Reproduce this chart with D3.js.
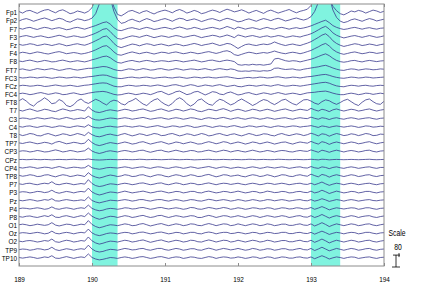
<!DOCTYPE html>
<html>
<head>
<meta charset="utf-8">
<script src="https://cdn.jsdelivr.net/npm/d3@7"></script>
<style>
  body { margin: 0; background: #fff; }
  svg { display: block; }
  text { font-family: "Liberation Sans", Arial, sans-serif; fill: #000; }
</style>
</head>
<body>
<div id="chart"></div>
<script>
// samples every 0.05 s from 189 to 194 (101 per channel), values in uV
var sampleStart = 189, sampleStep = 0.05;
var channels = ["Fp1","Fp2","F7","F3","Fz","F4","F8","FT7","FC3","FCz","FC4","FT8","T7","C3","C4","T8",
  "TP7","CP3","CPz","CP4","TP8","P7","P3","Pz","P4","P8","O1","Oz","O2","TP9","TP10"];
var xTicks = [189, 190, 191, 192, 193, 194];
var marked = [[190.0, 190.35], [193.0, 193.4]];
var scaleValue = 80;

var Fp1 = [4,-6,8,12,2,-8,5,14,18,6,-4,10,16,4,-10,-4,8,2,-6,6, 30,95,190,240,200,110,35,-15, -25,-10,6,12,2,-8,4,10,-2,-12,0,8,14, 6,-4,10,18,8,-6,2,12,4,-10,-4,6,14,8,-2,10,20,12,2,8, 16,6,-6,4,12,2,-8,6,14,4,-6,2,10,18,6,-4,6,12,20, 45,120,210,250,190,100,40,10,-10, -18,-6,8,2,12,6,-6,4,14,8,-2,6];
var Fp2 = [-4,6,12,4,-6,2,10,16,8,-2,6,14,8,-6,-12,0,10,6,-2,4, 15,45,110,180,210,150,60,5, -20,-14,0,8,-2,-10,2,12,4,-8,-2,6,12, 4,-6,6,14,10,-2,4,10,2,-8,0,8,12,4,-4,6,14,8,0,-10, -6,4,10,2,-6,4,12,6,-2,8,14,6,-4,2,10,16,8,2,10, 25,60,120,175,200,160,70,20,-5, -15,-8,4,10,2,-6,4,12,6,-4,2,8];
var F7 = [2,-4,4,8,0,-6,2,8,4,-4,2,6,0,-8,-4,4,8,2,-4,4, 12,20,30,40,45,30,6,-10, -14,-6,2,6,0,-6,2,8,2,-6,-2,4,8, 2,-4,4,10,4,-4,0,8,2,-6,-2,4,8,2,-4,4,14,6,-4,10, 4,-4,2,6,0,-6,2,8,0,-4,4,8,2,-4,2,6,0,4,10, 18,28,38,48,56,40,20,8,0, -6,-2,4,8,2,-4,2,6,0,-4,2,4];
var F3 = [-2,4,8,2,-4,2,6,0,-6,-2,4,10,4,-4,0,6,2,-4,-2,6, 14,24,36,50,55,35,8,-12, -16,-8,0,6,2,-4,4,10,2,-6,0,6,2, -4,2,8,4,-4,0,6,10,2,-6,0,4,10,6,-2,4,12,4,-6,12, 6,-2,4,8,2,-4,2,6,-2,2,8,4,-4,0,6,2,-2,6,12, 20,32,46,60,70,52,26,10,0, -8,-2,4,8,2,-4,2,8,2,-4,0,6];
var Fz = [4,-2,2,8,4,-4,0,6,2,-4,2,8,2,-6,-2,4,8,2,-2,6, 16,28,40,55,60,38,10,-10, -18,-10,-2,6,2,-6,2,8,4,-4,2,6,0, -6,0,6,2,-6,-2,4,10,4,-4,2,6,12,4,-4,2,10,6,-8,-24, -10,2,6,0,-4,2,6,2,8,20,10,2,-4,2,6,0,-4,4,12, 22,36,50,66,75,56,28,10,-2, -10,-4,2,8,4,-4,0,6,2,-4,2,6];
var F4 = [0,6,2,-4,2,8,4,-2,-6,0,6,10,4,-4,0,4,0,-6,-2,4, 12,22,34,46,50,32,8,-10, -14,-6,2,8,2,-4,2,6,0,-6,0,6,4, -2,4,8,2,-4,0,6,2,-4,0,6,10,4,-2,4,12,16,8,-10,-16, -8,0,6,2,-4,0,4,0,6,14,6,0,-4,2,6,2,-4,2,10, 18,30,42,56,65,48,24,8,-2, -8,-2,4,8,2,-4,0,6,4,-2,2,6];
var F8 = [2,-2,4,8,2,-4,0,6,2,-4,-2,4,8,2,-4,0,4,0,-4,2, 10,16,24,32,35,24,6,-8, -12,-4,2,6,0,-4,2,6,2,-4,0,4,2, -2,2,6,2,-4,0,4,8,2,-4,0,6,8,2,-2,4,8,4,-2,-22, -26,-22,-25,-20,-24,-22,-26,-22,-18,16,20,12,4,0,4,2,-4,2,8, 14,22,32,42,50,38,20,6,-2, -6,-2,4,6,0,-4,2,6,2,-2,2,4];
var FT7 = [0,4,-2,-6,0,6,2,-2,2,6,0,-6,-2,4,6,0,-4,0,4,8, 8,12,16,20,18,10,0,-6, -8,-2,4,2,-4,0,6,2,-4,-2,4,6,0, -4,0,6,2,-4,0,4,2,-2,2,6,0,-4,2,6,2,-2,4,0,-10, -12,-10,-12,-8,-10,-12,-8,-10,-6,8,10,4,0,2,4,-2,-4,2,6, 10,14,18,24,28,20,10,2,-4, -6,0,4,2,-4,0,4,2,-2,0,4,2];
var FC3 = [2,-2,0,4,2,-2,2,4,0,-4,0,4,2,-2,0,4,2,-2,2,6, 8,12,16,18,16,8,0,-4, -6,-2,2,4,0,-2,2,4,0,-4,0,2,4, 0,-2,2,4,0,-4,0,4,2,-2,2,4,0,-2,2,4,6,2,-2,-6, -4,0,2,-2,0,4,2,-2,0,4,6,2,-2,0,4,2,-2,2,6, 8,12,16,20,22,16,8,2,-2, -4,0,4,2,-2,0,4,2,-2,0,2,4];
var FCz = [0,4,2,-2,0,4,2,-4,-2,2,6,2,-2,0,4,0,-4,0,4,6, 10,14,18,20,18,8,-2,-6, -6,0,4,2,-2,0,4,2,-2,2,6,2,-4, 0,6,8,2,-4,2,8,4,-4,0,6,2,-2,4,8,2,-4,0,4,-4, -6,0,4,2,-2,2,6,2,-2,4,8,2,-2,0,4,2,-2,2,6, 10,14,18,22,24,18,8,0,-4, -6,0,4,2,-2,2,4,0,-2,2,4,2];
var FC4 = [2,6,2,-4,0,6,10,4,-2,2,8,4,-4,-2,4,8,2,-4,0,6, 10,14,16,18,14,6,-2,-6, -4,2,6,2,-4,0,6,2,-4,4,14,18,6, -4,4,16,20,8,-4,2,14,18,6,-6,4,16,12,0,-4,8,14,4,-6, -2,6,10,2,-4,2,8,4,-2,4,10,4,-2,2,6,2,-4,2,8, 10,12,16,18,20,14,6,0,-4, -4,2,6,2,-4,0,6,4,-2,2,6,2];
var FT8 = [10,24,8,-14,-26,-2,12,30,14,-10,-4,18,6,-22,-30,-16,10,22,2,-8, 6,20,10,-6,-18,4,14,8, -10,-18,2,12,26,6,-12,-22,0,16,24,2,-14, -24,-8,18,30,16,-10,-26,-12,14,22,2,-14,-20,4,20,12,-4,-18,-8,10, 22,8,-6,-22,-10,6,18,12,-4,-16,-2,14,20,4,-10,-18,0,16,18, 8,-6,-14,4,16,10,-4,-14,-2, 12,20,4,-12,-22,0,16,22,4,-10,-14,6];
var T7 = [2,-4,4,10,2,-6,0,8,4,-4,-8,2,10,4,-4,0,6,2,-4,24, 2,-10,-14,-8,0,4,0,-4, 2,8,4,-4,0,6,10,2,-6,-2,6,10,2, -6,0,8,4,-4,2,10,6,-4,-8,0,8,4,-2,6,12,4,-6,2,8, 2,-6,0,8,4,-4,2,8,2,-6,0,6,10,2,-4,2,8,4,0, 14,4,-4,8,2,-8,4,10,2, -4,2,8,4,-4,0,6,10,2,-4,2,6];
var C3 = [0,4,2,-4,0,6,2,-2,2,6,0,-4,2,8,2,-4,0,4,0,16, 0,-8,-10,-6,0,4,2,-2, 2,6,2,-4,0,4,8,2,-4,0,4,6,0, -4,2,6,2,-4,0,6,4,-2,-6,2,6,2,-2,4,8,2,-4,2,6, 0,-4,2,6,2,-4,0,6,2,-4,0,4,6,0,-4,2,6,2,0, 10,2,-4,6,2,-6,2,6,0, -4,2,6,2,-4,0,4,6,0,-4,2,4];
var C4 = [2,-2,4,6,0,-4,2,6,2,-4,0,6,4,-2,-4,2,6,2,-2,14, 0,-6,-8,-4,2,4,0,-2, 2,6,2,-2,2,6,2,-4,0,4,8,2,-4, 0,6,4,-2,2,8,4,-4,-2,4,8,2,-4,2,6,2,-2,4,8,2, -4,0,6,4,-2,2,6,0,-4,2,6,2,-2,2,6,4,-2,2,4, 8,2,-4,6,2,-4,2,6,2, -2,2,6,2,-4,0,6,4,-2,0,4,2];
var T8 = [4,-4,2,10,6,-4,-6,4,10,2,-6,0,8,4,-4,2,10,4,-4,18, 2,-8,-12,-6,2,6,0,-4, 4,10,2,-6,0,8,4,-4,2,10,6,-4,-2, 6,10,2,-6,0,8,4,-4,2,10,4,-6,-2,6,10,2,-4,4,8,0, -6,2,10,4,-4,0,8,6,-2,-6,4,10,2,-4,2,8,4,-4,2, 12,4,-6,8,4,-8,2,10,4, -4,0,8,4,-4,2,10,6,-4,-2,6,4];
var TP7 = [2,-2,4,8,2,-4,0,6,2,-6,6,12,4,-4,0,6,2,-4,0,26, 4,-10,-16,-10,-2,4,0,-4, 2,8,2,-6,-2,6,10,2,-6,0,6,10,2, -6,0,8,4,-4,2,8,2,-6,-4,4,10,4,-4,2,10,6,-4,2,8, 2,-6,0,8,4,-4,2,8,2,-6,0,6,8,0,-6,2,8,4,0, 12,2,-6,10,4,-8,2,8,2, -4,2,8,4,-4,0,6,10,2,-4,2,6];
var CP3 = [0,4,2,-4,0,6,2,-4,-2,4,10,4,-4,0,6,2,-4,0,4,22, 2,-8,-14,-8,0,4,0,-4, 2,6,2,-4,0,6,8,0,-6,0,6,8,0, -4,2,8,2,-4,0,6,4,-4,-2,4,8,2,-4,2,8,4,-4,2,6, 0,-4,2,8,2,-4,0,6,2,-4,2,6,4,-2,-4,2,6,2,0, 10,2,-6,8,2,-6,2,8,2, -4,2,6,2,-4,0,6,8,0,-4,2,4];
var CPz = [0,1,-1,0,2,0,-1,1,0,-2,0,1,0,-1,1,2,0,-1,0,4, 0,-2,-3,-2,0,1,0,-1, 0,1,0,-1,0,2,1,-1,0,1,0,-1,0, 1,2,0,-1,0,1,0,-2,-1,0,1,2,0,-1,0,1,0,-1,1,0, -1,0,2,1,-1,0,1,0,-1,0,2,1,0,-1,0,1,0,-1,0, 2,0,-2,2,1,-2,0,1,0, -1,0,1,0,-1,0,1,2,0,-1,0,1];
var CP4 = [2,-2,2,6,2,-4,0,4,2,-4,2,8,2,-4,0,4,2,-2,0,16, 0,-6,-10,-6,0,2,0,-2, 2,6,2,-4,0,4,6,0,-4,2,6,4,-2, -4,2,6,2,-4,0,6,2,-4,0,4,8,2,-4,2,6,2,-4,0,4, 0,-4,2,6,2,-4,0,6,2,-2,2,6,2,-4,0,4,6,0,-2, 8,0,-4,6,2,-6,2,6,0, -4,2,6,2,-4,0,4,6,0,-4,2,2];
var TP8 = [4,-2,2,8,4,-4,-2,6,8,0,-6,2,8,4,-4,0,6,2,-4,22, 2,-8,-14,-8,0,6,2,-4, 0,8,4,-4,-2,6,8,0,-6,2,8,6,-2, -6,2,8,4,-4,0,8,4,-4,-2,6,10,2,-6,0,8,6,-2,2,6, -2,-6,2,8,4,-4,0,8,2,-6,0,8,6,-2,-4,4,8,2,-2, 12,2,-6,10,4,-8,2,8,2, -4,2,8,4,-4,0,6,8,0,-4,2,4];
var P7 = [2,-2,4,6,0,-4,2,6,2,16,0,-4,2,6,2,-4,0,4,0,30, 4,-10,-16,-12,-4,2,0,-4, 2,6,2,-4,0,6,8,2,-4,0,6,8,0, -4,2,8,4,-4,0,6,4,-4,-2,4,8,2,-4,2,6,4,-2,2,6, 0,-4,2,6,2,-4,0,6,4,-2,2,6,2,-4,0,4,6,0,-2, 6,-4,4,14,2,-8,0,6,2, -4,2,6,2,-4,0,4,6,0,-4,2,4];
var P3 = [0,4,2,-4,0,6,4,-2,2,14,0,-6,0,6,2,-4,2,6,2,28, 2,-10,-18,-12,-4,2,0,-4, 2,8,2,-4,0,4,8,2,-4,0,6,8,2, -4,0,6,4,-4,0,6,6,-2,-4,4,8,2,-4,0,6,4,-2,2,8, 2,-4,0,6,4,-4,0,8,4,-2,0,6,4,-4,-2,4,6,0,-2, 8,-4,2,14,4,-8,0,8,2, -4,0,6,4,-4,0,6,6,0,-4,2,4];
var Pz = [2,-2,2,6,2,-4,0,6,2,12,-2,-4,2,6,2,-2,0,4,0,24, 0,-10,-16,-10,-4,2,0,-2, 2,6,2,-4,0,6,6,0,-4,2,6,6,0, -4,2,6,2,-4,0,6,4,-2,-4,2,8,4,-2,2,6,2,-4,0,6, 2,-4,0,6,2,-4,0,6,4,-2,2,6,2,-4,0,4,6,0,-2, 6,-4,2,12,4,-6,0,6,2, -4,2,6,2,-4,0,4,6,0,-2,2,4];
var P4 = [0,4,2,-2,2,6,2,-4,0,12,0,-4,2,6,2,-4,2,6,2,24, 2,-8,-14,-10,-2,2,0,-4, 0,6,4,-2,0,6,8,2,-4,0,6,8,2, -2,2,6,2,-4,0,8,6,-2,-4,2,8,4,-2,2,8,4,-4,0,6, 2,-4,0,6,4,-2,0,6,4,-4,0,6,4,-2,0,6,4,-2,0, 8,-4,4,14,4,-8,0,6,2, -2,2,6,4,-4,0,6,6,0,-4,2,4];
var P8 = [2,-2,4,6,0,-4,2,8,2,14,-2,-4,4,8,2,-4,2,8,2,26, 4,-8,-16,-10,-2,4,2,-4, 2,8,4,-4,0,6,10,2,-4,0,8,10,2, -4,2,8,4,-2,2,8,6,-4,-4,4,10,4,-4,2,8,6,-2,2,8, 2,-4,2,8,4,-4,2,8,4,-2,2,8,4,-4,0,6,8,0,-2, 8,-4,4,16,4,-8,2,8,2, -4,2,8,4,-4,2,6,8,0,-4,2,6];
var O1 = [2,6,2,-4,0,6,2,-2,2,16,0,-6,0,6,4,-4,0,6,2,30, 4,-10,-18,-12,-4,2,0,-4, 2,8,4,-4,-2,6,10,2,-6,0,6,10,2, -4,2,8,4,-4,0,8,6,-2,-4,4,10,4,-4,2,8,6,-4,0,8, 2,-4,2,8,4,-4,0,8,4,-4,0,6,6,-2,-2,4,8,0,-2, 8,-6,4,16,4,-10,0,8,2, -4,2,8,4,-4,0,6,8,0,-4,2,6];
var Oz = [0,4,2,-2,2,6,2,-4,0,14,0,-4,2,6,2,-4,2,6,2,28, 2,-10,-16,-10,-2,2,0,-4, 2,6,4,-4,0,6,8,2,-4,0,6,8,2, -4,0,6,4,-4,0,6,6,-2,-4,4,8,4,-4,2,6,6,-2,0,6, 2,-4,0,6,4,-4,0,6,4,-2,0,6,6,-2,-2,4,6,0,-2, 6,-6,4,14,4,-8,0,6,2, -4,2,6,4,-4,0,6,6,0,-4,2,4];
var O2 = [2,-2,4,6,2,-4,0,6,2,16,-2,-6,2,8,4,-4,0,6,2,30, 4,-10,-18,-12,-4,2,0,-4, 2,8,4,-4,0,6,10,2,-6,0,6,10,2, -4,2,8,4,-4,0,8,6,-2,-4,4,10,4,-4,2,8,6,-4,0,8, 2,-4,2,8,4,-4,0,8,4,-4,0,6,6,-2,-2,4,8,0,-2, 8,-6,4,16,4,-10,0,8,2, -4,2,8,4,-4,0,6,8,0,-4,2,6];
var TP9 = [0,4,2,-4,0,6,4,-2,2,16,0,-6,0,6,2,-4,2,6,2,30, 4,-10,-16,-12,-4,2,0,-4, 2,8,4,-2,0,6,8,0,-4,2,8,8,0, -4,2,8,4,-4,0,6,6,-2,-4,4,10,4,-4,2,8,4,-2,2,8, 2,-4,0,8,4,-4,0,6,4,-4,0,6,6,-2,-2,4,8,0,-2, 8,-6,4,16,4,-8,0,8,2, -4,2,8,4,-4,0,6,8,0,-4,2,4];
var TP10 = [2,-2,2,6,2,-4,0,6,2,14,-2,-4,2,8,2,-4,2,6,2,26, 2,-8,-14,-10,-4,2,0,-4, 2,6,2,-4,0,6,8,2,-4,0,6,8,2, -4,2,6,4,-4,0,6,4,-2,-4,2,8,4,-4,2,6,4,-2,0,6, 2,-4,0,6,4,-4,0,6,4,-4,0,6,4,-2,-2,4,6,0,-2, 6,-6,4,14,4,-8,0,6,2, -4,2,6,4,-4,0,4,6,0,-4,2,4];

var traces = [Fp1,Fp2,F7,F3,Fz,F4,F8,FT7,FC3,FCz,FC4,FT8,T7,C3,C4,T8,TP7,CP3,CPz,CP4,TP8,P7,P3,Pz,P4,P8,O1,Oz,O2,TP9,TP10];

function draw() {
  "use strict";
  var W = 430, H = 286;
  var plotL = 19, plotR = 384, plotT = 4, plotB = 266;
  var spacing = 55; // uV between channel baselines
  var narrow = 0.8; // condensed look of the labels

  var svg = d3.select("#chart").append("svg")
    .attr("width", W).attr("height", H);

  var x = d3.scaleLinear().domain([189, 194]).range([plotL, plotR]);
  var y = d3.scaleLinear().domain([0, (channels.length + 1) * spacing]).range([plotT, plotB]);

  svg.append("clipPath").attr("id", "plotclip")
    .append("rect").attr("x", plotL).attr("y", plotT).attr("width", plotR - plotL).attr("height", plotB - plotT);

  // marked windows
  svg.selectAll("rect.mark").data(marked).enter().append("rect")
    .attr("class", "mark")
    .attr("x", d => x(d[0])).attr("width", d => x(d[1]) - x(d[0]))
    .attr("y", plotT).attr("height", plotB - plotT)
    .attr("fill", "#80f3df");

  // traces
  var line = d3.line()
    .x((v, j) => x(sampleStart + j * sampleStep))
    .y(v => v);

  var g = svg.append("g").attr("clip-path", "url(#plotclip)");
  traces.forEach(function(vals, i) {
    var base = (i + 1) * spacing;
    g.append("path")
      .attr("d", line(vals.map(v => y(base - v))))
      .attr("fill", "none")
      .attr("stroke", "#3a3a8e")
      .attr("stroke-width", 0.8);
  });

  // channel labels
  svg.selectAll("text.ch").data(channels).enter().append("text")
    .attr("class", "ch")
    .attr("transform", (d, i) => "translate(" + (plotL - 2) + "," + (y((i + 1) * spacing) + 3) + ") scale(" + narrow + ",1)")
    .attr("text-anchor", "end")
    .style("font-size", "8px")
    .text(d => d);

  // frame + ticks
  svg.append("rect").attr("x", plotL).attr("y", plotT)
    .attr("width", plotR - plotL).attr("height", plotB - plotT)
    .attr("fill", "none").attr("stroke", "#8c8c8c").attr("stroke-width", 1);

  var xb = svg.append("g").attr("transform", "translate(0," + plotB + ")")
    .call(d3.axisBottom(x).tickValues(xTicks).tickSize(-3).tickPadding(10).tickFormat(d3.format("d")));
  var xt = svg.append("g").attr("transform", "translate(0," + plotT + ")")
    .call(d3.axisTop(x).tickValues(xTicks).tickSize(-3).tickFormat(""));
  [xb, xt].forEach(function(a) {
    a.select(".domain").remove();
    a.selectAll("line").attr("stroke", "#8c8c8c");
  });
  xb.selectAll("text").style("font-size", "8px").attr("fill", "#000")
    .style("font-family", "'Liberation Sans', Arial, sans-serif")
    .attr("transform", "scale(" + narrow + ",1)");

  // scale bar
  var sx = 396, sy0 = 267, sy1 = sy0 - (y(scaleValue) - y(0));
  svg.append("text").attr("transform", "translate(397,236) scale(" + narrow + ",1)").attr("text-anchor", "middle")
    .style("font-size", "8.5px").text("Scale");
  svg.append("text").attr("transform", "translate(398,250) scale(" + narrow + ",1)").attr("text-anchor", "middle")
    .style("font-size", "8.5px").text(scaleValue);
  var sb = svg.append("g").attr("stroke", "#000").attr("stroke-width", 0.8);
  sb.append("line").attr("x1", sx).attr("x2", sx).attr("y1", sy0).attr("y2", sy1);
  sb.append("line").attr("x1", sx - 4).attr("x2", sx + 4).attr("y1", sy0).attr("y2", sy0);
  sb.append("line").attr("x1", sx - 3).attr("x2", sx + 4).attr("y1", sy1).attr("y2", sy1);
  sb.append("line").attr("x1", sx + 3).attr("x2", sx + 3).attr("y1", sy1 - 2).attr("y2", sy1 + 2);
}

draw();
</script>
</body>
</html>
